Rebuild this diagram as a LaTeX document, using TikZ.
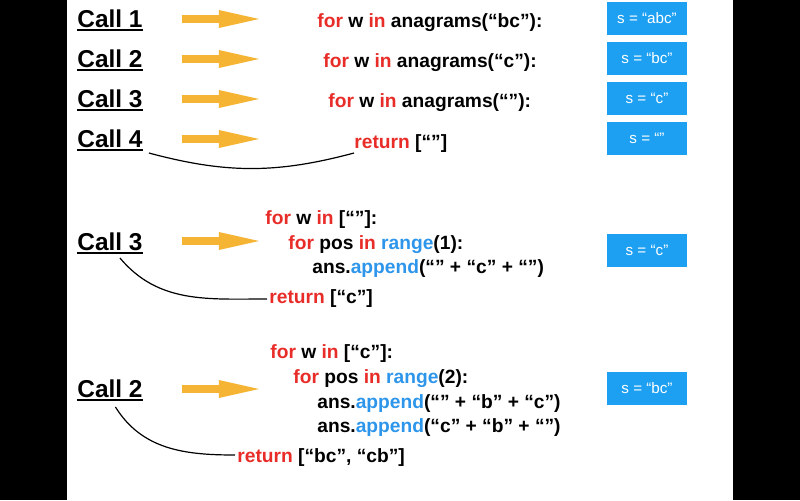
\documentclass[tikz,border=0pt]{standalone}
\usepackage{fontspec}
\setmainfont{Liberation Sans}
\usetikzlibrary{arrows.meta}

\definecolor{kwred}{RGB}{232,44,40}
\definecolor{fnblue}{RGB}{45,150,235}
\definecolor{boxblue}{RGB}{30,160,242}
\definecolor{arrowgold}{RGB}{245,180,52}

\newcommand{\kw}[1]{\textcolor{kwred}{#1}}
\newcommand{\fn}[1]{\textcolor{fnblue}{#1}}

\tikzset{
  call/.style={font=\bfseries\fontsize{12.2}{14}\selectfont, inner sep=0pt, anchor=base west},
  code/.style={font=\bfseries\fontsize{9.6}{11}\selectfont, inner sep=0pt, anchor=base west},
  state/.style={fill=boxblue, text=white, font=\fontsize{7.6}{9}\selectfont,
    minimum width=40pt, minimum height=16.5pt, inner sep=0pt},
  callarrow/.style={arrowgold, line width=3.7pt, -{Triangle[width=9pt,length=20pt,line width=0pt]}},
  unwind/.style={black, line width=0.6pt},
}

\begin{document}
\begin{tikzpicture}[x=0.5pt, y=-0.5pt]
\fill[black] (0,0) rectangle (800,500);
\fill[white] (67,0) rectangle (733,500);
\useasboundingbox (0,0) rectangle (800,500);

% the calls
\node[call] (c1) at (77,27) {Call 1};
\node[call] (c2) at (77,67) {Call 2};
\node[call] (c3) at (77,107) {Call 3};
\node[call] (c4) at (77,147) {Call 4};
\node[call] (c3b) at (77,250) {Call 3};
\node[call] (c2b) at (77,397) {Call 2};
\foreach \c in {c1,c2,c3,c4,c3b,c2b}
  \draw[line width=1pt] ([yshift=-1.7pt]\c.base west) -- ([yshift=-1.7pt]\c.base east);
\foreach \c in {c1,c2,c3,c4}
  \draw[callarrow] ([xshift=19.5pt,yshift=4pt]\c.base east) -- ++(77,0);
\draw[callarrow] ([xshift=19.5pt,yshift=4.5pt]c3b.base east) -- ++(77,0);
\draw[callarrow] ([xshift=19.5pt,yshift=4pt]c2b.base east) -- ++(77,0);

% going down
\node[code] (f1) at (317,27) {\kw{for} w \kw{in} anagrams(“bc”):};
\node[code] (f2) at (323,67) {\kw{for} w \kw{in} anagrams(“c”):};
\node[code] (f3) at (328,107) {\kw{for} w \kw{in} anagrams(“”):};
\node[code] (r4) at (354,148) {\kw{return} [“”]};

% coming back from call 4
\node[code] (w3) at (265,224) {\kw{for} w \kw{in} [“”]:};
\node[code] (p3) at (288,249) {\kw{for} pos \kw{in} \fn{range}(1):};
\node[code] (a3) at (312,273) {ans.\fn{append}(“” + “c” + “”)};
\node[code] (r3) at (269,303) {\kw{return} [“c”]};

% coming back from call 3
\node[code] (w2) at (270,358) {\kw{for} w \kw{in} [“c”]:};
\node[code] (p2) at (293,383) {\kw{for} pos \kw{in} \fn{range}(2):};
\node[code] (a2) at (317,408) {ans.\fn{append}(“” + “b” + “c”)};
\node[code] (b2) at (317,432) {ans.\fn{append}(“c” + “b” + “”)};
\node[code] (r2) at (237,462) {\kw{return} [“bc”, “cb”]};

% value of s
\node[state] (s1) at (647,18.5) {s = “abc”};
\node[state] (s2) at (647,58.5) {s = “bc”};
\node[state] (s3) at (647,98.5) {s = “c”};
\node[state] (s4) at (647,138.5) {s = “”};
\node[state] (s5) at (647,250) {s = “c”};
\node[state] (s6) at (647,388) {s = “bc”};

\draw[unwind] ([xshift=3pt,yshift=-3pt]c4.base east) to[out=-15, in=-165] ([yshift=-2.5pt]r4.base west);
\draw[unwind] ([xshift=5pt,yshift=-4pt]c3b.base) to[out=-50, in=180] ([xshift=-1pt,yshift=2pt]r3.base west);
\draw[unwind] ([xshift=2.75pt,yshift=-5pt]c2b.base) to[out=-58, in=180] ([xshift=-1pt,yshift=3.5pt]r2.base west);
\end{tikzpicture}
\end{document}
